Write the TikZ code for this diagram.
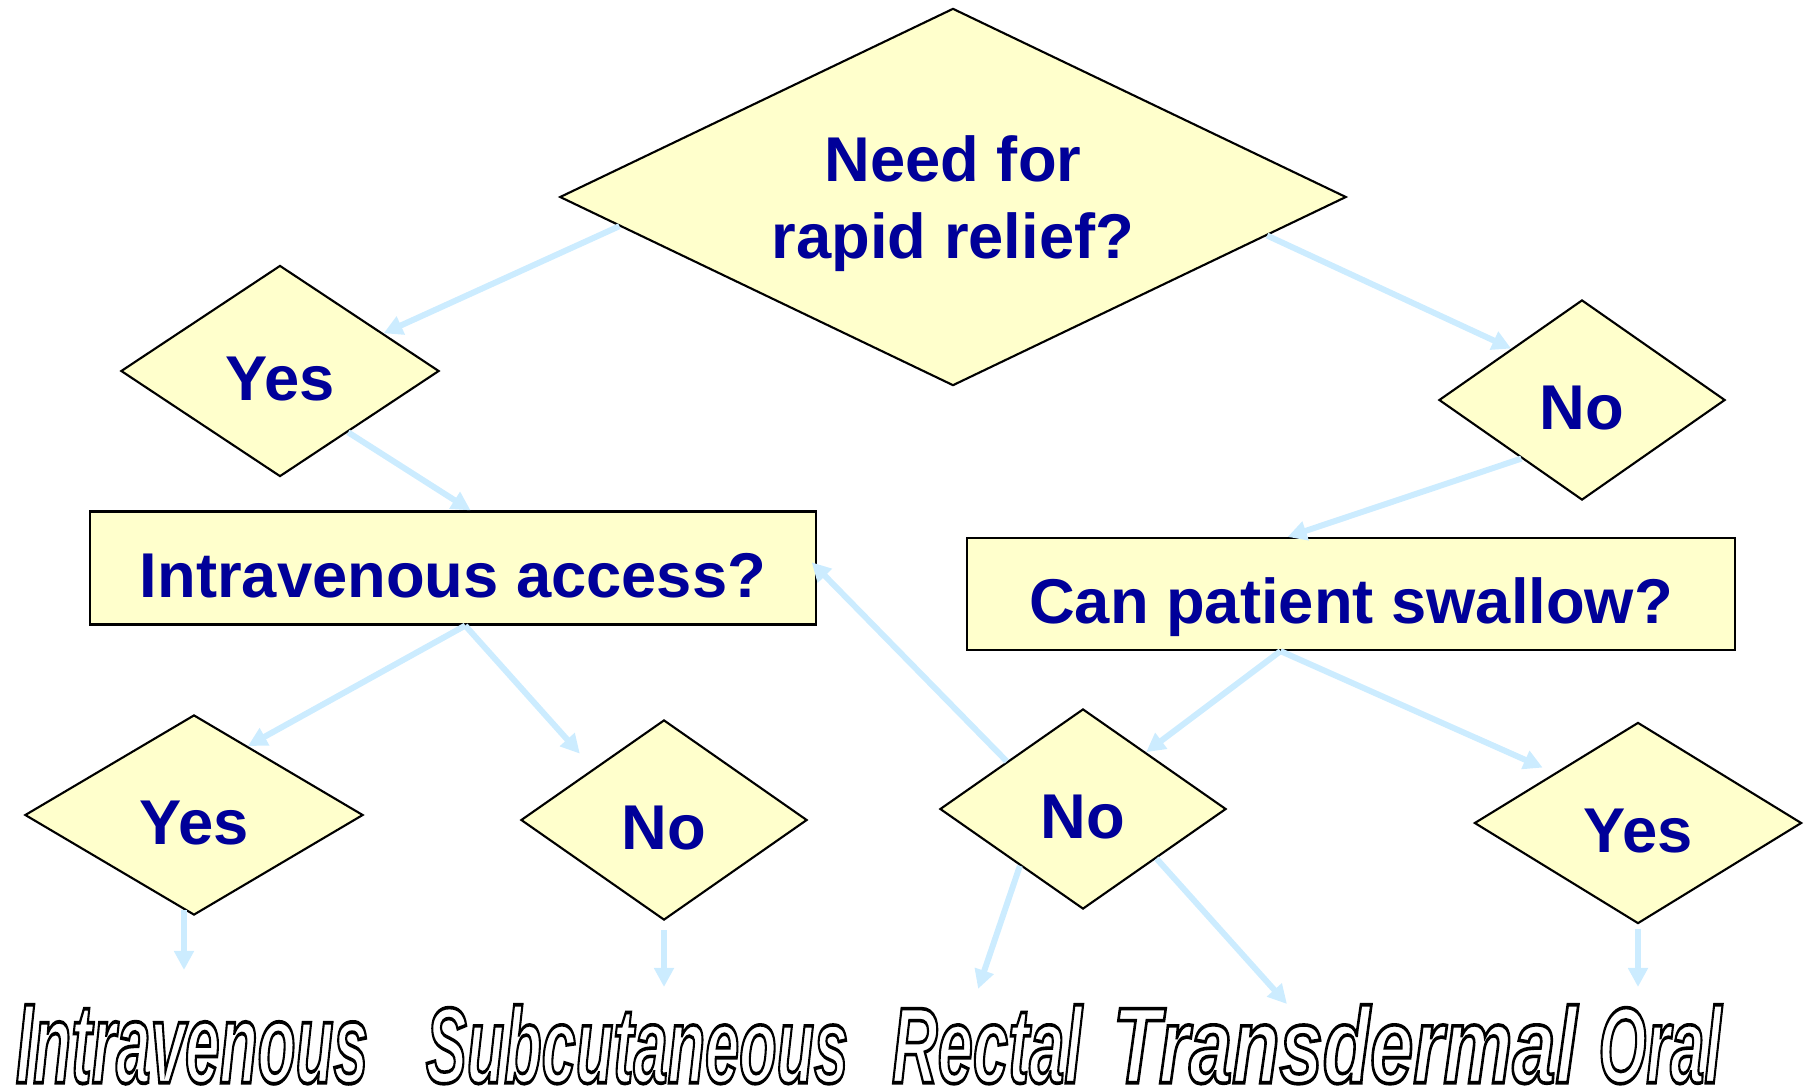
\documentclass[tikz,border=0pt]{standalone}
\usepackage{fontspec}
\setmainfont{Liberation Sans}
\usepackage{graphicx}
\usetikzlibrary{shapes.geometric}
\usetikzlibrary{arrows.meta}
\definecolor{boxfill}{RGB}{255,255,204}
\definecolor{qtext}{RGB}{0,0,153}
\definecolor{flowblue}{RGB}{204,236,255}
\tikzstyle{decision} = [draw, diamond, fill=boxfill, inner sep=0pt, line width=0.6pt, text=qtext, align=center, font=\bfseries\fontsize{18}{22}\selectfont]
\tikzstyle{answer} = [decision, minimum height=2.0cm, text height=0.58cm, text depth=0pt]
\tikzstyle{question} = [draw, rectangle, fill=boxfill, inner sep=0pt, line width=0.6pt, text=qtext, text height=0.58cm, text depth=0pt, font=\bfseries\fontsize{18}{22}\selectfont]
\tikzstyle{route} = [inner sep=0pt, anchor=north]
\tikzstyle{flow} = [draw=flowblue, line width=1.7pt, -{Triangle[length=0.19cm,width=0.19cm]}]
% outlined, narrowed label text
\newcommand{\routename}[2]{\resizebox{#1}{0.78cm}{\fontsize{30}{30}\selectfont\bfseries\itshape\special{pdf:literal direct 1 Tr 1.0 w}#2\special{pdf:literal direct 0 Tr}}}

\begin{document}
\begin{tikzpicture}[x=0.01cm,y=-0.01cm]
    \useasboundingbox (0,0) rectangle (1805,1087);
    \node [decision, aspect=2.08, text depth=-0.12cm, minimum width=7.86cm, minimum height=3.77cm] (need) at (953,197) {Need for\\rapid relief?};
    \node [answer, minimum width=3.18cm, minimum height=2.11cm] (yes1) at (280,371) {Yes};
    \node [answer, minimum width=2.86cm] (no1) at (1582,400) {No};
    \node [question, minimum width=7.26cm, minimum height=1.13cm] (access) at (453,568) {Intravenous access?};
    \node [question, minimum width=7.68cm, minimum height=1.12cm] (swallow) at (1351,594) {Can patient swallow?};
    \node [answer, minimum width=3.38cm] (yes2) at (194,815) {Yes};
    \node [answer, minimum width=2.86cm] (no2) at (664,820) {No};
    \node [answer, minimum width=2.86cm] (no3) at (1083,809) {No};
    \node [answer, minimum width=3.27cm, minimum height=2.01cm] (yes3) at (1638,823) {Yes};

    \node [route] (iv) at (192,1004) {\routename{3.52cm}{Intravenous}};
    \node [route] (subc) at (637,1004) {\routename{4.22cm}{Subcutaneous}};
    \node [route] (rectal) at (987,1004) {\routename{1.90cm}{Rectal}};
    \node [route] (trans) at (1345,1004) {\routename{4.64cm}{Transdermal}};
    \node [route] (oral) at (1660,1004) {\routename{1.23cm}{Oral}};

    \draw [flow] (need.185) -- (yes1.20);
    \draw [flow] (need.353) -- (no1.144);
    \draw [flow] (yes1.318) -- (access.73);
    \draw [flow] (no1.224) -- (swallow.138);
    \draw [flow] (access.282) -- (yes2.52);
    \draw [flow, shorten >=0.2cm] (access.282) -- (no2.144);
    \draw [flow] (swallow.219) -- (no3.42);
    \draw [flow, shorten >=0.13cm] (swallow.219) -- (yes3.149);
    \draw [flow, shorten >=-0.08cm] (no3.148) -- (access.east);
    \draw [flow, shorten >=0.34cm] (yes2.264) -- (yes2.264 |- iv.north);
    \draw [flow, shorten <=0.09cm, shorten >=0.17cm] (no2.south) -- (no2.south |- subc.north);
    \draw [flow, shorten >=0.16cm] (no3.222) -- ([xshift=-0.14cm]rectal.north);
    \draw [flow] (no3.326) -- ([xshift=-0.58cm]trans.north);
    \draw [flow, shorten <=0.04cm, shorten >=0.17cm] (yes3.south) -- (yes3.south |- oral.north);
\end{tikzpicture}
\end{document}
